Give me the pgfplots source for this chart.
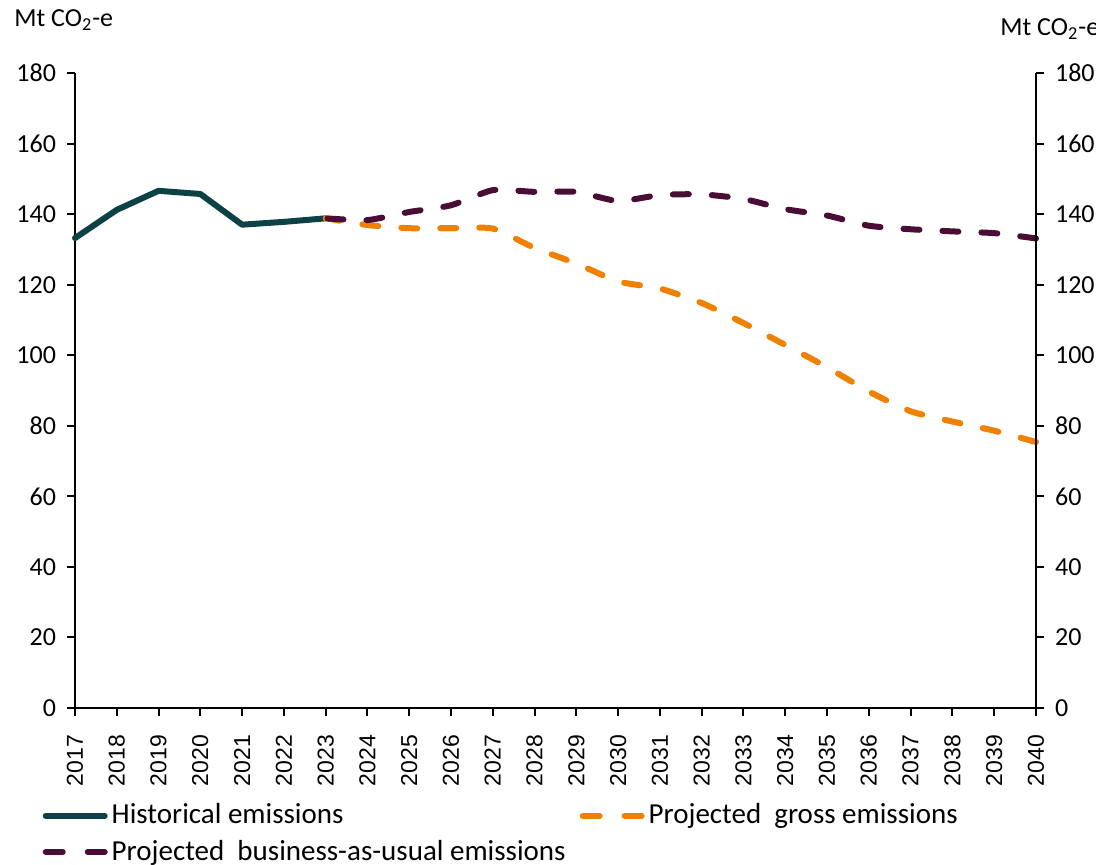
\documentclass[border=0pt]{standalone}
\usepackage{pgfplots}
\pgfplotsset{compat=1.18}
\usepackage{fontspec}
\setmainfont{Carlito}
\newfontfamily\arialf{Liberation Sans}
\definecolor{histc}{RGB}{12,66,70}
\definecolor{grossc}{RGB}{240,128,0}
\definecolor{bauc}{RGB}{74,14,52}
\begin{document}
\fontsize{13}{15}\selectfont
\begin{tikzpicture}
\useasboundingbox (0,0) rectangle (548pt,432.5pt);
\clip (0,0) rectangle (548pt,432.5pt);
\pgfplotsset{
  every axis/.append style={
    scale only axis, width=480.5pt, height=317.5pt,
    xmin=2017, xmax=2040, ymin=0, ymax=180,
    ytick={0,20,...,180},
    axis line style={line width=1pt, black},
    every tick/.style={line width=1pt, black},
    major tick length=4pt,
    tick align=outside,
    /pgf/number format/assume math mode=true,
    /pgf/number format/1000 sep={},
    tick label style={font=\fontsize{13}{15}\selectfont},
    clip=false,
  }
}
\begin{axis}[
  at={(37.5pt,78.5pt)}, anchor=south west,
  axis x line*=bottom, axis y line*=left,
  xtick={2017,...,2040},
  xticklabel style={rotate=90, anchor=east, xshift=-5pt, font=\arialf\fontsize{11.5}{13}\selectfont},
  yticklabel style={xshift=-1pt},
  legend columns=2,
  legend cell align=left,
  legend style={at={(-0.034,-0.144)}, anchor=north west, draw=none, fill=none,
    inner sep=0pt, row sep=2pt,
    nodes={inner sep=2pt, font=\fontsize{14.5}{17}\selectfont},
    /tikz/every even column/.append style={column sep=5pt}},
  legend image code/.code={\draw[#1] (1.5pt,0pt) -- (31pt,0pt);},
]
\addplot[color=histc, line width=3pt, line join=round, line cap=round] coordinates {
(2017,133.2) (2018,141.2) (2019,146.6) (2020,145.7) (2021,137.0) (2022,137.8) (2023,138.8)};
\addlegendentry{Historical emissions}
\addplot[color=grossc, line width=3pt, line cap=round, dash pattern=on 8pt off 11.5pt, smooth, tension=0.35,
  legend image post style={dash pattern=on 8.5pt off 12.5pt}] coordinates {
(2040,75.4) (2039,78.6) (2038,81.2) (2037,84.1) (2036,89.7) (2035,96.6) (2034,102.9) (2033,109.1) (2032,114.8) (2031,118.9) (2030,120.9) (2029,126.0) (2028,130.4) (2027,135.9) (2026,136.0) (2025,136.0) (2024,136.9) (2023,138.8)};
\addlegendentry{Projected~ gross emissions}
\addplot[color=bauc, line width=3pt, line cap=round, dash pattern=on 8pt off 11.5pt, smooth, tension=0.35,
  legend image post style={dash pattern=on 8.5pt off 12.5pt}] coordinates {
(2040,133.1) (2039,134.6) (2038,135.1) (2037,135.7) (2036,136.7) (2035,139.6) (2034,141.4) (2033,144.3) (2032,145.6) (2031,145.4) (2030,143.7) (2029,146.3) (2028,146.3) (2027,146.8) (2026,142.5) (2025,140.6) (2024,138.3) (2023,138.8)};
\addlegendentry{Projected~ business-as-usual emissions}
\end{axis}
\begin{axis}[
  at={(37.5pt,78.5pt)}, anchor=south west,
  axis x line=none, axis y line*=right,
  yticklabel style={xshift=1pt},
]
\addplot[draw=none] coordinates {(2017,0) (2040,0)};
\end{axis}
\node[anchor=base west, inner sep=0pt] at (7pt,419pt) {Mt CO\textsubscript{2}-e};
\node[anchor=base west, inner sep=0pt] at (500pt,414.5pt) {Mt CO\textsubscript{2}-e};
\end{tikzpicture}
\end{document}
